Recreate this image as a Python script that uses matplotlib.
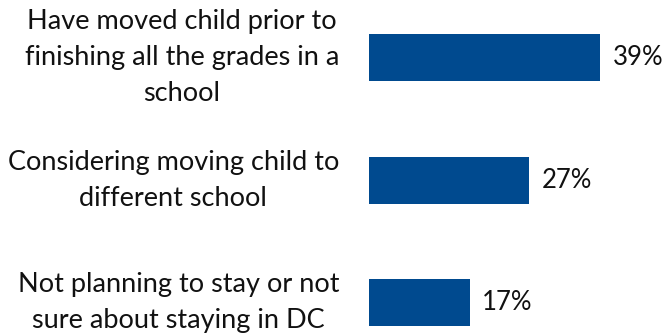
import matplotlib
matplotlib.use("Agg")
import matplotlib.pyplot as plt

# survey items and shares
labels = [
    "Have moved child prior to\nfinishing all the grades in a\nschool",
    "Considering moving child to\ndifferent school",
    "Not planning to stay or not\nsure about staying in DC",
]
values = [39, 27, 17]

plt.rcParams["font.family"] = ["Lato", "DejaVu Sans"]

W, H = 670, 335
fig = plt.figure(figsize=(W / 100, H / 100), dpi=100)
ax = fig.add_axes([369 / W, 0, 301 / W, 1])

pos = list(range(len(values)))
ax.barh(pos, values, height=0.385, color="#004A8F")
ax.set_xlim(0, 50.8)
ax.set_ylim(2.27, -0.475)
ax.axis("off")

for p, v, lab in zip(pos, values, labels):
    ax.text(v + 2.1, p, "{}%".format(v), va="center", ha="left",
            fontsize=18.5, color="#111111")
    ax.annotate(lab, xy=(0, p), xycoords="data",
                xytext=(-30 * 72 / 100, 0), textcoords="offset points",
                ha="right", va="center", multialignment="center",
                fontsize=19.5, linespacing=1.55, color="#111111",
                annotation_clip=False)

fig.savefig("out.png", dpi=100)
